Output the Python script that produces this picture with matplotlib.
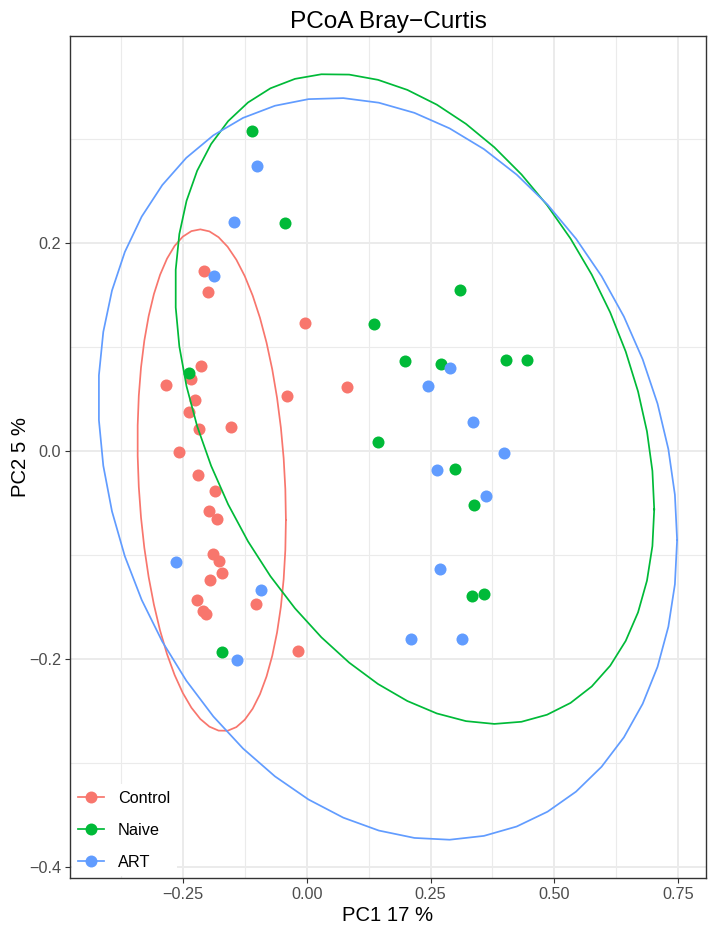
import numpy as np
import matplotlib
matplotlib.use("Agg")
import matplotlib.pyplot as plt
from matplotlib.lines import Line2D
from matplotlib.ticker import FuncFormatter, MultipleLocator

plt.rcParams['font.family'] = ['Liberation Sans', 'DejaVu Sans']

# groups and colours (ggplot default hue palette)
groups = ["Control", "Naive", "ART"]
colours = ["#F8766D", "#00BA38", "#619CFF"]

# PCoA coordinates
control_pc1 = [-0.2067, -0.1992, -0.0037, -0.2127, -0.2349, -0.2839, -0.0393, -0.2268, -0.2376,
               -0.1536, -0.2187, -0.2584, -0.2194, -0.1859, -0.1972, -0.1818, -0.1891, -0.1771,
               -0.1704, -0.1959, -0.2214, -0.1032, -0.2093, -0.2046, -0.0178, 0.0817]
control_pc2 = [0.1734, 0.1529, 0.1227, 0.0820, 0.0689, 0.0634, 0.0532, 0.0490, 0.0371,
               0.0234, 0.0211, -0.0013, -0.0234, -0.0382, -0.0574, -0.0657, -0.0991, -0.1055,
               -0.1173, -0.1241, -0.1433, -0.1475, -0.1542, -0.1568, -0.1927, 0.0618]

naive_pc1 = [-0.1112, -0.0447, -0.2383, -0.1704, 0.3095, 0.1354, 0.1986, 0.2718,
             0.4016, 0.4439, 0.1435, 0.3000, 0.3377, 0.3343, 0.3579]
naive_pc2 = [0.3080, 0.2195, 0.0750, -0.1939, 0.1548, 0.1221, 0.0868, 0.0836,
             0.0875, 0.0878, 0.0083, -0.0177, -0.0519, -0.1394, -0.1372]

art_pc1 = [-0.1008, -0.1462, -0.1879, -0.2651, -0.0917, -0.1408, 0.2900, 0.2450,
           0.3357, 0.3976, 0.2631, 0.3625, 0.2692, 0.2100, 0.3142]
art_pc2 = [0.2741, 0.2198, 0.1686, -0.1065, -0.1337, -0.2007, 0.0801, 0.0621,
           0.0279, -0.0019, -0.0186, -0.0439, -0.1138, -0.1808, -0.1814]

pc1 = [control_pc1, naive_pc1, art_pc1]
pc2 = [control_pc2, naive_pc2, art_pc2]


def cov_trob(pts, nu=5, maxit=25, tol=0.01):
    # robust t covariance, same steps as MASS::cov.trob
    n, p = pts.shape
    loc = pts.mean(axis=0)
    w = np.ones(n)
    for _ in range(maxit):
        w0 = w
        X = pts - loc
        sw = np.sqrt(w / w.sum())
        _, d, vt = np.linalg.svd(sw[:, None] * X, full_matrices=False)
        wX = X @ vt.T / d
        Q = (wX ** 2).sum(axis=1)
        w = (nu + p) / (nu + Q)
        loc = (w[:, None] * pts).sum(axis=0) / w.sum()
        if np.all(np.abs(w - w0) < tol):
            break
    sX = np.sqrt(w)[:, None] * X
    return sX.T @ sX / n, loc


def stat_ellipse(xs, ys, level=0.95, segments=51):
    pts = np.column_stack([xs, ys])
    shape, centre = cov_trob(pts)
    dfd = len(pts) - 1
    fq = dfd / 2 * ((1 - level) ** (-2 / dfd) - 1)  # qf(level, 2, dfd)
    radius = np.sqrt(2 * fq)
    ang = np.arange(segments + 1) * 2 * np.pi / segments
    circle = np.column_stack([np.cos(ang), np.sin(ang)])
    e = centre + radius * circle @ np.linalg.cholesky(shape).T
    return e[:, 0], e[:, 1]


fig = plt.figure(figsize=(7.08, 9.34), dpi=100)
ax = fig.add_axes([70 / 708, 56 / 934, 636 / 708, 842 / 934])

for g in range(3):
    ax.scatter(pc1[g], pc2[g], s=75, color=colours[g], linewidths=0, zorder=3)
for g in range(3):
    ex, ey = stat_ellipse(pc1[g], pc2[g])
    ax.plot(ex, ey, color=colours[g], lw=1.25, zorder=4)

ax.margins(0.05)

ax.xaxis.set_major_locator(MultipleLocator(0.25))
ax.xaxis.set_minor_locator(MultipleLocator(0.125))
ax.yaxis.set_major_locator(MultipleLocator(0.2))
ax.yaxis.set_minor_locator(MultipleLocator(0.1))
ax.xaxis.set_major_formatter(FuncFormatter(lambda v, p: ("%.2f" % v).replace("-", "\u2212")))
ax.yaxis.set_major_formatter(FuncFormatter(lambda v, p: ("%.1f" % v).replace("-", "\u2212")))

ax.grid(which='major', color='#EBEBEB', lw=1.4)
ax.grid(which='minor', color='#EBEBEB', lw=0.8)
ax.set_axisbelow(True)
ax.tick_params(which='major', length=3.6, width=0.8, color='#333333', pad=2.9,
               labelsize=11.7, labelcolor='#4D4D4D')
ax.tick_params(which='minor', length=0)
for s in ax.spines.values():
    s.set_color('#333333')
    s.set_linewidth(1.0)

fig.text(388 / 708, 1 - 28 / 934, "PCoA Bray\u2212Curtis", ha='center', va='baseline', fontsize=17.6)
fig.text(388 / 708, 1 - 921 / 934, "PC1 17 %", ha='center', va='baseline', fontsize=14.6)
fig.text(20 / 708, 1 - 457 / 934, "PC2 5 %", ha='center', va='center', rotation=90, fontsize=14.6)

handles = [Line2D([], [], color=c, lw=1.25, marker='o', markersize=8.6, markeredgewidth=0)
           for c in colours]
ax.legend(handles, groups, loc='lower left', bbox_to_anchor=(0, 0), borderaxespad=0.1,
          frameon=True, facecolor='white', edgecolor='none', framealpha=1, fancybox=False,
          fontsize=11.7, handlelength=1.6, handletextpad=0.85, labelspacing=1.05,
          borderpad=0.4)

fig.savefig("out.png", dpi=100)
